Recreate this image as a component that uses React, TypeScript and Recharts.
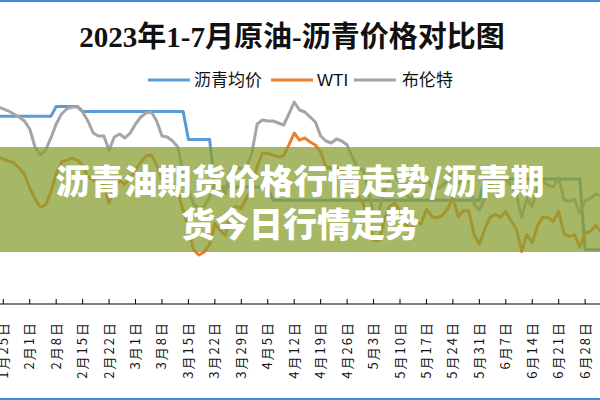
import React from 'react';
import { LineChart, Line, XAxis, YAxis } from 'recharts';

// Weekly tick labels (every 5th trading day)
const tickLabels = [
  '1月25日', '2月1日', '2月8日', '2月15日', '2月22日', '3月1日', '3月8日', '3月15日',
  '3月22日', '3月29日', '4月5日', '4月12日', '4月19日', '4月26日', '5月3日', '5月10日',
  '5月17日', '5月24日', '5月31日', '6月7日', '6月14日', '6月21日', '6月28日',
];

// 沥青均价 (元/吨), one value per trading day, starting the day before 1月25日
const asphalt = [
  3870, 3870, 3870, 3870, 3870, 3870, 3870, 3870, 3870, 3870,
  3870, 3900, 3900, 3900, 3900, 3900, 3885, 3885, 3885, 3885,
  3885, 3885, 3885, 3885, 3885, 3885, 3885, 3885, 3885, 3885,
  3885, 3885, 3885, 3885, 3885, 3885, 3800, 3800, 3800, 3800,
  3800, 3655, 3655, 3655, 3655, 3655, 3655, 3655, 3655, 3655,
  3655, 3655, 3615, 3615, 3615, 3615, 3615, 3615, 3615, 3615,
  3615, 3615, 3615, 3615, 3615, 3615, 3615, 3615, 3615, 3615,
  3615, 3615, 3615, 3615, 3615, 3615, 3615, 3615, 3615, 3615,
  3615, 3615, 3615, 3615, 3615, 3615, 3615, 3615, 3615, 3615,
  3615, 3615, 3680, 3680, 3680, 3680, 3680, 3680, 3680, 3680,
  3680, 3680, 3680, 3680, 3680, 3680, 3680, 3680, 3680, 3680,
  3680, 3465, 3465, 3465, 3465,
];

// WTI (美元/桶)
const wti = [
  79.92, 79.65, 79.38, 79.11, 78.43, 77.62, 75.72, 74.23, 73.14, 73.42,
  75.18, 77.62, 79.24, 79.51, 79.78, 79.51, 78.84, 77.21, 76.80, 76.53,
  76.13, 73.69, 75.86, 76.67, 76.26, 77.07, 78.16, 79.24, 80.06, 80.19,
  78.84, 76.80, 77.07, 76.40, 75.04, 72.74, 70.03, 67.32, 66.64, 67.05,
  68.00, 70.90, 69.96, 69.26, 72.81, 73.20, 72.97, 74.37, 75.70, 78.60,
  80.46, 80.40, 80.19, 79.92, 80.10, 81.55, 83.17, 82.22, 82.50, 81.95,
  81.55, 80.60, 78.57, 78.43, 78.43, 78.16, 76.40, 75.45, 74.60, 73.70,
  71.66, 68.60, 68.56, 71.34, 73.16, 73.71, 72.56, 70.87, 70.04, 71.11,
  70.86, 72.83, 71.86, 71.69, 71.99, 72.91, 74.34, 71.83, 72.67, 72.60,
  69.46, 68.09, 70.10, 71.74, 72.15, 71.74, 72.53, 71.29, 70.17, 67.12,
  69.42, 68.27, 70.62, 71.78, 71.70, 71.19, 72.53, 69.51, 69.16, 69.37,
  67.70, 69.56, 69.86, 70.64, 69.79,
];

// 布伦特 (美元/桶)
const brent = [
  86.70, 86.43, 86.15, 85.75, 85.34, 84.80, 83.71, 81.28, 80.19, 80.87,
  82.50, 84.39, 85.75, 86.43, 86.70, 86.70, 86.02, 84.80, 83.17, 82.77,
  82.77, 80.87, 82.63, 83.04, 82.50, 83.17, 84.39, 85.34, 85.88, 86.02,
  84.80, 82.77, 82.63, 82.09, 81.28, 77.80, 75.50, 73.50, 72.97, 73.20,
  74.50, 76.60, 75.90, 75.00, 78.10, 78.60, 78.30, 78.60, 80.50, 84.39,
  84.93, 84.80, 84.80, 84.53, 84.26, 85.75, 87.37, 86.29, 86.02, 85.34,
  84.66, 82.77, 82.09, 81.82, 82.36, 82.09, 81.55, 79.92, 78.40, 78.20,
  75.30, 72.30, 72.50, 75.30, 77.00, 77.40, 76.40, 75.00, 74.20, 75.20,
  74.90, 77.00, 75.90, 75.60, 76.00, 76.80, 78.40, 76.30, 77.00, 77.10,
  73.50, 72.70, 74.30, 76.10, 76.70, 76.30, 77.00, 76.00, 74.80, 71.80,
  74.30, 73.20, 75.70, 76.60, 76.10, 75.90, 77.10, 74.10, 73.90, 74.20,
  72.30, 74.00, 74.30, 74.90, 74.70,
];

const seriesDefs = [
  { key: 'asphalt', name: '沥青均价', color: '#5B9BD5', axis: 'asphalt' },
  { key: 'wti', name: 'WTI', color: '#ED7D31', axis: 'crude' },
  { key: 'brent', name: '布伦特', color: '#A5A5A5', axis: 'crude' },
];

const titleText = '2023年1-7月原油-沥青价格对比图';
const bannerLines = ['沥青油期货价格行情走势/沥青期', '货今日行情走势'];

const data = wti.map((w, i) => ({ i, asphalt: asphalt[i], wti: w, brent: brent[i] }));
const ticks = tickLabels.map((_, k) => 1 + k * 5);

const AxisTick = (props: any) => {
  const { x, y, payload } = props;
  const label = tickLabels[Math.round((payload.value - 1) / 5)];
  const tx = x + 4.5;
  const ty = y + 17;
  return (
    <g>
      <line x1={x} y1={y - 5} x2={x} y2={y} stroke="#000" strokeWidth={1} />
      <text
        x={tx}
        y={ty}
        transform={`rotate(-90 ${tx} ${ty})`}
        textAnchor="end"
        fontSize={13}
        fill="#111"
        fontFamily='"Noto Sans CJK SC", sans-serif'
        style={{ letterSpacing: 2 }}
      >
        {label}
      </text>
    </g>
  );
};

export default function App() {
  return (
    <div
      style={{
        position: 'absolute',
        left: 0,
        top: 0,
        width: 600,
        height: 400,
        overflow: 'hidden',
        background: '#fff',
      }}
    >
      <div style={{ position: 'absolute', left: -2, top: 0 }}>
        <LineChart
          width={603}
          height={400}
          data={data}
          margin={{ top: 90, right: 0, bottom: 36, left: 0 }}
        >
          <XAxis
            dataKey="i"
            type="number"
            domain={[0, 114]}
            ticks={ticks}
            interval={0}
            height={60}
            tickSize={0}
            tickMargin={0}
            tickLine={false}
            axisLine={{ stroke: '#000', strokeWidth: 1 }}
            tick={<AxisTick />}
          />
          <YAxis yAxisId="asphalt" domain={[3300, 3950]} hide />
          <YAxis yAxisId="crude" orientation="right" domain={[60, 89]} hide />
          {seriesDefs.map((s) => (
            <Line
              key={s.key}
              yAxisId={s.axis}
              type="linear"
              dataKey={s.key}
              name={s.name}
              stroke={s.color}
              strokeWidth={3}
              strokeLinejoin="round"
              dot={false}
              activeDot={false}
              isAnimationActive={false}
            />
          ))}
        </LineChart>
      </div>

      <svg
        width={600}
        height={400}
        style={{ position: 'absolute', left: 0, top: 0, pointerEvents: 'none' }}
      >
        <text
          x={292}
          y={47}
          textAnchor="middle"
          fontSize={29}
          fontWeight="bold"
          fill="#111"
          fontFamily='"Liberation Serif", "Noto Sans CJK SC", serif'
        >
          {titleText}
        </text>
        {(() => {
          const lineX = [148, 271, 354];
          const textX = [194, 317, 402];
          return seriesDefs.map((s, k) => (
            <g key={s.key}>
              <line x1={lineX[k]} y1={80} x2={lineX[k] + 42} y2={80} stroke={s.color} strokeWidth={3} />
              <text
                x={textX[k]}
                y={86}
                fontSize={17}
                fill="#111"
                fontFamily='"Liberation Sans", "Noto Sans CJK SC", sans-serif'
              >
                {s.name}
              </text>
            </g>
          ));
        })()}
        <rect x={0} y={0} width={600} height={2} fill="#3C8DDB" />
        <rect x={0} y={398} width={600} height={2} fill="#3C8DDB" />
      </svg>

      <div
        style={{
          position: 'absolute',
          left: 0,
          top: 147,
          width: 600,
          height: 105,
          background: 'rgba(136,159,50,0.75)',
          color: '#fff',
          fontFamily: '"Noto Sans CJK SC", sans-serif',
          fontWeight: 900,
          fontSize: 34,
          textAlign: 'center',
          boxSizing: 'border-box',
          paddingTop: 11,
        }}
      >
        {bannerLines.map((t) => (
          <div key={t} style={{ lineHeight: '43px', height: 43, whiteSpace: 'nowrap' }}>
            {t}
          </div>
        ))}
      </div>
    </div>
  );
}
